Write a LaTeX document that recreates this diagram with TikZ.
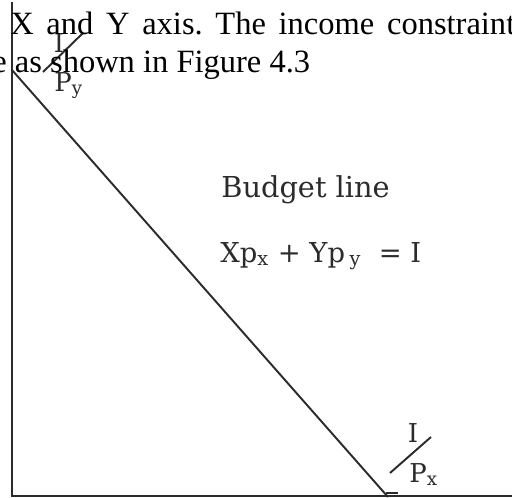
\documentclass[tikz,border=0pt]{standalone}
\usepackage{fontspec}
\setmainfont{Liberation Serif}
\newfontfamily\plotfont{DejaVu Serif}

\definecolor{inkgray}{HTML}{2B2B2B}

\begin{document}
\frenchspacing
\begin{tikzpicture}[x=0.02cm,y=-0.02cm,
    axisline/.style={line width=1.1pt,inkgray},
    plotlabel/.style={inner sep=0pt,text=inkgray,font=\plotfont\fontsize{14.8pt}{16pt}\selectfont},
    bodytext/.style={inner sep=0pt,anchor=base west,font=\fontsize{18.5pt}{22pt}\selectfont}]
            \useasboundingbox (0,0) rectangle (512,498);

            \coordinate (O) at (12,496);
            \coordinate (Ytop) at (12,2);
            \coordinate (Xend) at (512,496);
            \coordinate (A) at (12,70);
            \coordinate (B) at (388,497);
            \coordinate (T1) at (386,493);
            \coordinate (T2) at (398,493);
            \coordinate (S1) at (43,72);
            \coordinate (S2) at (83,33);
            \coordinate (S3) at (390,473);
            \coordinate (S4) at (431,437);

            % axes and budget line
            \draw[axisline] (Ytop)--(O)--(Xend);
            \draw[axisline] (A)--(B);
            \draw[axisline] (T1)--(T2);

            % intercepts I/Py and I/Px
            \draw[axisline] (S1)--(S2);
            \draw[axisline] (S3)--(S4);
            \node[plotlabel,anchor=base] (iy) at (59,52) {I};
            \node[plotlabel,anchor=base west] (py) at (54,91) {P\textsubscript{y}};
            \node[plotlabel,anchor=base] (ix) at (413,442) {I};
            \node[plotlabel,anchor=base west] (px) at (409,482) {P\textsubscript{x}};

            \node[plotlabel,anchor=base west,font=\plotfont\fontsize{16.4pt}{18pt}\selectfont] (bl) at (221,197) {Budget line};
            \node[plotlabel,anchor=base west,font=\plotfont\fontsize{15.6pt}{18pt}\selectfont] (eq) at (220,262)
                {Xp\textsubscript{x} + Yp\,\textsubscript{y}\ \ = I};

            % surrounding text of the page
            \node[bodytext] (line1) at (10,34) {\makebox[10.1cm][s]{X and Y axis. The income constraint}};
            \node[bodytext] (line2) at (-8,72) {e as shown in Figure 4.3};
        \end{tikzpicture}
\end{document}
